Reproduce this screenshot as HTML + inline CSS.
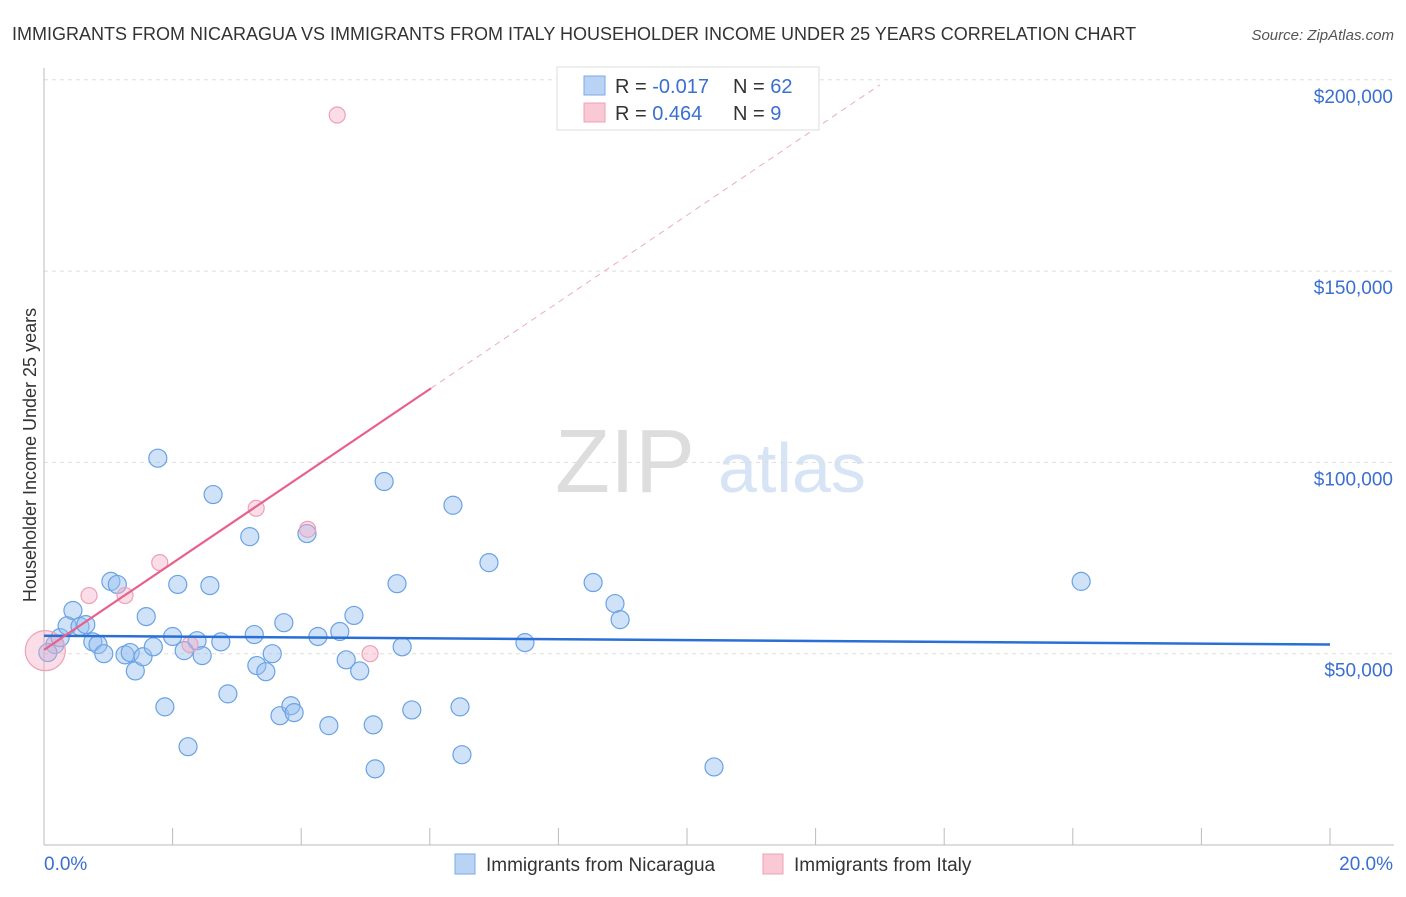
<!DOCTYPE html>
<html><head><meta charset="utf-8"><style>
body{margin:0;background:#fff;font-family:"Liberation Sans",sans-serif}
svg text{font-family:"Liberation Sans",sans-serif}
</style></head><body>
<svg id="c" width="1406" height="892" xmlns="http://www.w3.org/2000/svg">
<text x="12" y="40" font-size="18" fill="#333">IMMIGRANTS FROM NICARAGUA VS IMMIGRANTS FROM ITALY HOUSEHOLDER INCOME UNDER 25 YEARS CORRELATION CHART</text>
<text x="1394" y="40" font-size="15" fill="#555" font-style="italic" text-anchor="end">Source: ZipAtlas.com</text>
<text x="36" y="455" font-size="18" fill="#333" text-anchor="middle" transform="rotate(-90 36 455)">Householder Income Under 25 years</text>
<text x="555" y="492" font-size="90" fill="#ddd" font-family="Liberation Serif">ZIP</text>
<text x="718" y="492" font-size="70" fill="#d6e4f5">atlas</text>
<g id="grid"></g><g id="blue"></g><g id="pink"></g><g id="trend"></g>
<g>
<rect x="557" y="67" width="262" height="63" fill="#fff" stroke="#ddd"/>
<rect x="584" y="76" width="21" height="19" fill="#b9d3f5" stroke="#7aaae6"/>
<rect x="584" y="103" width="21" height="19" fill="#fac9d6" stroke="#eea0b5"/>
<text x="615" y="93" font-size="20" fill="#333">R = <tspan fill="#3a6fd0">-0.017</tspan></text>
<text x="733" y="93" font-size="20" fill="#333">N = <tspan fill="#3a6fd0">62</tspan></text>
<text x="615" y="120" font-size="20" fill="#333">R = <tspan fill="#3a6fd0"> 0.464</tspan></text>
<text x="733" y="120" font-size="20" fill="#333">N = <tspan fill="#3a6fd0">  9</tspan></text>
</g>
<g>
<rect x="455" y="854" width="20" height="20" fill="#b9d3f5" stroke="#7aaae6"/>
<text x="486" y="871" font-size="19" fill="#333">Immigrants from Nicaragua</text>
<rect x="763" y="854" width="20" height="20" fill="#fac9d6" stroke="#eea0b5"/>
<text x="794" y="871" font-size="19" fill="#333">Immigrants from Italy</text>
</g>
</svg>
<script>
const yTicks=[50000,100000,150000,200000];
const yTickLabels=["$50,000","$100,000","$150,000","$200,000"];
const xTickLabels=["0.0%","20.0%"];
const blueX=[0.17,0.25,0.36,0.45,0.56,0.65,0.76,0.84,0.93,1.04,1.14,1.26,1.34,1.42,1.54,1.59,1.70,1.77,1.88,2.0,2.08,2.18,2.24,2.38,2.46,2.58,2.63,2.75,2.86,3.2,3.27,3.31,3.45,3.55,3.67,3.73,3.84,3.89,4.09,4.26,4.43,4.6,4.7,4.82,4.91,5.12,5.15,5.29,5.49,5.57,5.72,6.36,6.47,6.5,6.92,7.48,8.54,8.88,8.96,10.42,16.13,0.06];
const blueY=[52.4,54.2,57.3,61.3,57.1,57.6,53.1,52.4,50.0,68.9,68.1,49.7,50.3,45.5,49.2,59.7,51.8,101.1,36.1,54.5,68.1,50.8,25.7,53.4,49.5,67.8,91.6,53.1,39.5,80.6,55.0,46.9,45.3,50.0,33.8,58.1,36.4,34.6,81.4,54.5,31.2,55.8,48.4,60.0,45.5,31.4,19.9,95.0,68.3,51.8,35.3,88.8,36.1,23.6,73.8,52.9,68.6,63.1,58.9,20.4,68.9,50.3];
const pinkX=[0.02,0.7,1.26,1.8,2.27,3.3,4.1,4.56,5.07];
const pinkY=[50.8,65.2,65.2,73.8,52.4,88,82.5,190.8,50];
const blueTrend=[54.7,52.4];
const pinkTrend=[51,11.36];
const NS="http://www.w3.org/2000/svg";
const xs=p=>44+p*64.3, ys=v=>845-v*191.3/50000;
function mk(tag,attrs,parent){const e=document.createElementNS(NS,tag);for(const k in attrs)e.setAttribute(k,attrs[k]);document.getElementById(parent).appendChild(e);return e;}
yTicks.forEach((t,i)=>{
 let l=mk('line',{x1:44,x2:1394,y1:ys(t),y2:ys(t),stroke:'#ddd','stroke-dasharray':'4,4'},'grid');
 
 
 let tx=mk('text',{x:1393,y:ys(t)+23,'font-size':19,fill:'#3a6fd0','text-anchor':'end'},'grid');tx.textContent=yTickLabels[i];
 
 
});
mk('line',{x1:44,x2:44,y1:68,y2:845,stroke:'#bbb'},'grid');
mk('line',{x1:44,x2:1394,y1:845,y2:845,stroke:'#bbb'},'grid');
for(let i=0;i<=10;i++){mk('line',{x1:xs(i*2),x2:xs(i*2),y1:828,y2:845,stroke:'#bbb'},'grid');}
[[0,69,'start'],[20,1393,'end']].forEach((a,i)=>{let t=mk('text',{x:a[1]-25*(i==0),y:870,'font-size':19,fill:'#3a6fd0','text-anchor':a[2]},'grid');t.textContent=xTickLabels[i];
 
 });
blueX.forEach((x,i)=>{let c=mk('circle',{cx:xs(x),cy:ys(blueY[i]*1000),r:9,fill:'rgba(150,190,240,0.45)',stroke:'#6aa2e4','stroke-width':1.2},'blue');
 
 });
pinkX.forEach((x,i)=>{let c=mk('circle',{cx:xs(x),cy:ys(pinkY[i]*1000),r:i==0?20:8,fill:'rgba(244,170,195,0.4)',stroke:'#eea0b5','stroke-width':1.2},'pink');
 
 });
let b=mk('line',{x1:xs(0),x2:xs(20),y1:ys(blueTrend[0]*1000),y2:ys(blueTrend[1]*1000),stroke:'#2a6fd6','stroke-width':2.5},'trend');


const pf=x=>ys((pinkTrend[0]+pinkTrend[1]*x)*1000);
let p=mk('line',{x1:xs(0),x2:xs(6.02),y1:pf(0),y2:pf(6.02),stroke:'#e8608c','stroke-width':2.2},'trend');


let pd=mk('line',{x1:xs(6.02),x2:xs(13),y1:pf(6.02),y2:pf(13),stroke:'#eeaabf','stroke-width':1,'stroke-dasharray':'6,5'},'trend');


</script>
</body></html>
